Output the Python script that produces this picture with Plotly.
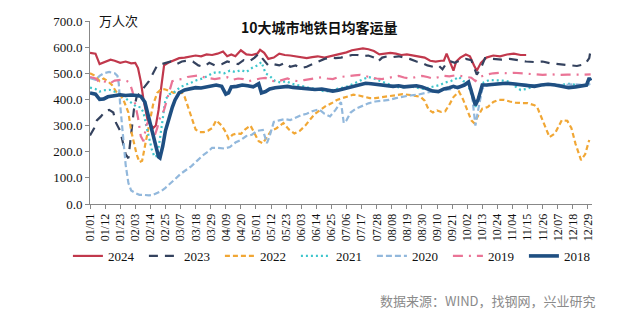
import plotly.graph_objects as go

# ---- tick labels (every 11 days) ----
tick_days = list(range(1, 365, 11))
tick_labels = ["01/01", "01/12", "01/23", "02/03", "02/14", "02/25", "03/07", "03/18", "03/29",
               "04/09", "04/20", "05/01", "05/12", "05/23", "06/03", "06/14", "06/25", "07/06",
               "07/17", "07/28", "08/08", "08/19", "08/30", "09/10", "09/21", "10/02", "10/13",
               "10/24", "11/04", "11/15", "11/26", "12/07", "12/18", "12/29"]

# ---- series: day of year, value (万人次) ----
d2024 = [1, 5, 8, 12, 16, 19, 23, 27, 31, 34, 36, 38, 40, 43, 47, 49, 51, 53, 55, 58, 62, 66, 70, 74, 78, 82,
         86, 90, 94, 98, 101, 104, 107, 111, 115, 119, 123, 125, 128, 131, 135, 139, 143, 147, 151, 155, 159,
         163, 167, 172, 176, 180, 184, 188, 192, 196, 200, 204, 208, 212, 216, 220, 224, 228, 232, 236, 240,
         245, 249, 253, 257, 259, 261, 263, 266, 268, 271, 275, 278, 281, 283, 286, 290, 295, 300, 305, 310,
         315, 319]
v2024 = [578, 575, 535, 545, 552, 548, 540, 545, 538, 540, 520, 470, 400, 320, 290, 300, 360, 450, 530, 540,
         550, 558, 560, 565, 568, 565, 572, 570, 575, 583, 565, 572, 565, 588, 572, 570, 575, 590, 578, 555,
         560, 575, 570, 568, 565, 560, 558, 562, 565, 560, 565, 570, 575, 580, 588, 592, 595, 592, 585, 572,
         575, 578, 575, 570, 572, 568, 565, 560, 548, 545, 548, 548, 575, 548, 510, 545, 560, 572, 565, 530,
         510, 540, 560, 568, 565, 572, 575, 570, 570]

d2023 = [1, 4, 6, 9, 12, 15, 18, 20, 23, 25, 27, 29, 31, 33, 35, 38, 41, 44, 47, 50, 53, 56, 60, 64, 68, 72,
         76, 80, 84, 88, 92, 97, 101, 105, 109, 113, 117, 121, 124, 127, 131, 135, 139, 143, 147, 151, 155,
         159, 163, 168, 172, 176, 180, 184, 188, 192, 196, 200, 204, 208, 211, 214, 218, 222, 226, 230, 234,
         239, 243, 247, 251, 255, 258, 261, 264, 267, 271, 275, 279, 283, 286, 289, 295, 301, 307, 313, 319,
         325, 331, 337, 343, 350, 356, 362, 365, 366]
v2023 = [262, 290, 320, 335, 355, 360, 350, 310, 280, 230, 190, 175, 260, 360, 410, 430, 450, 470, 500, 530,
         535, 540, 545, 535, 545, 548, 545, 530, 525, 540, 530, 535, 545, 540, 535, 550, 545, 560, 575, 555,
         530, 535, 530, 540, 525, 530, 520, 525, 535, 548, 555, 560, 558, 560, 565, 570, 570, 565, 568, 560,
         545, 560, 565, 562, 565, 560, 555, 545, 540, 530, 525, 530, 515, 540, 545, 540, 550, 555, 550, 495,
         520, 558, 555, 552, 555, 550, 545, 543, 545, 538, 535, 530, 528, 535, 558, 590]

d2022 = [1, 5, 8, 11, 14, 17, 20, 24, 26, 29, 31, 33, 35, 37, 39, 41, 44, 47, 50, 53, 56, 59, 62, 65, 68, 70,
         72, 75, 78, 81, 84, 87, 90, 93, 97, 100, 102, 105, 108, 111, 114, 118, 121, 124, 127, 130, 133, 137,
         142, 146, 150, 154, 158, 161, 165, 169, 173, 177, 181, 185, 189, 193, 197, 201, 205, 209, 213, 217,
         221, 225, 229, 233, 238, 242, 245, 248, 251, 254, 257, 260, 263, 266, 270, 273, 276, 279, 281, 283,
         287, 291, 295, 299, 303, 307, 311, 316, 320, 325, 327, 331, 336, 340, 345, 349, 352, 355, 359, 362,
         365]
v2022 = [500, 490, 470, 480, 470, 455, 430, 410, 390, 350, 280, 230, 190, 160, 165, 220, 300, 380, 425, 440,
         438, 432, 425, 430, 425, 410, 380, 330, 285, 275, 275, 280, 290, 320, 300, 275, 250, 265, 270, 268,
         285, 300, 270, 240, 232, 255, 280, 290, 310, 285, 270, 280, 300, 320, 345, 360, 375, 385, 398, 405,
         412, 418, 415, 410, 405, 405, 408, 410, 415, 418, 420, 418, 415, 410, 395, 360, 350, 358, 352, 355,
         380, 409, 430, 400, 360, 320, 310, 330, 365, 371, 390, 398, 398, 392, 388, 386, 386, 378, 371, 320,
         256, 270, 321, 318, 290, 230, 168, 190, 245]

d2021 = [1, 5, 8, 11, 15, 19, 24, 28, 32, 35, 38, 40, 42, 44, 46, 48, 50, 52, 54, 56, 59, 63, 67, 71, 75, 79,
         83, 87, 90, 94, 99, 103, 107, 111, 115, 119, 123, 126, 129, 132, 136, 140, 144, 148, 152, 156, 160,
         164, 169, 173, 177, 181, 185, 189, 193, 197, 201, 204, 208, 211, 215, 219, 223, 227, 231, 235, 239,
         244, 248, 252, 256, 260, 264, 268, 270, 273, 276, 279, 282, 285, 288, 292, 297, 302, 307, 311, 315,
         319, 325, 331, 337, 343, 350, 356, 362, 366]
v2021 = [445, 440, 430, 435, 437, 430, 420, 400, 385, 372, 370, 350, 300, 250, 210, 180, 185, 250, 330, 400,
         420, 430, 448, 455, 465, 474, 480, 490, 500, 505, 500, 510, 505, 512, 505, 520, 530, 543, 500, 490,
         470, 465, 470, 460, 455, 450, 445, 440, 435, 430, 435, 440, 445, 450, 460, 470, 478, 486, 480, 474,
         465, 455, 450, 445, 448, 450, 445, 440, 445, 450, 455, 465, 470, 480, 486, 470, 465, 420, 371, 420,
         465, 474, 474, 472, 468, 450, 436, 440, 450, 455, 458, 455, 460, 455, 455, 460]

d2020 = [1, 5, 8, 11, 15, 19, 21, 22, 23, 25, 27, 29, 31, 34, 37, 40, 44, 47, 50, 53, 56, 59, 63, 67, 71, 75,
         79, 83, 87, 90, 94, 99, 103, 107, 111, 115, 119, 123, 127, 130, 132, 135, 139, 143, 147, 151, 155,
         159, 163, 168, 172, 176, 180, 184, 186, 188, 191, 195, 199, 204, 209, 214, 219, 224, 229, 234, 240,
         245, 250, 255, 260, 265, 270, 275, 279, 282, 284, 287, 291, 297, 305, 313, 321, 329, 337, 345, 354,
         362, 366]
v2020 = [482, 475, 490, 500, 505, 500, 490, 460, 380, 260, 150, 80, 52, 42, 35, 35, 33, 35, 42, 50, 62, 75,
         95, 115, 130, 145, 165, 185, 200, 215, 215, 212, 218, 235, 245, 260, 265, 280, 283, 233, 260, 314,
         320, 325, 321, 330, 340, 345, 355, 362, 345, 335, 360, 390, 310, 320, 350, 365, 375, 385, 392, 396,
         398, 405, 410, 415, 418, 425, 430, 432, 436, 440, 450, 460, 440, 300, 360, 440, 455, 460, 462, 458,
         455, 455, 458, 455, 458, 455, 460]

d2019 = [1, 5, 8, 11, 15, 19, 24, 28, 30, 32, 34, 36, 38, 40, 42, 44, 46, 48, 50, 52, 55, 58, 61, 64, 68, 72,
         76, 80, 84, 88, 92, 97, 101, 105, 109, 113, 117, 121, 125, 129, 133, 137, 141, 145, 149, 153, 157,
         161, 165, 170, 174, 178, 182, 186, 190, 194, 198, 202, 206, 210, 214, 218, 222, 226, 230, 234, 239,
         243, 247, 251, 255, 259, 263, 267, 271, 275, 279, 282, 285, 290, 295, 300, 305, 310, 315, 320, 325,
         331, 337, 343, 349, 355, 361, 366]
v2019 = [486, 480, 465, 470, 460, 472, 475, 470, 463, 430, 380, 330, 260, 240, 300, 320, 280, 260, 290, 330,
         360, 420, 470, 475, 478, 486, 490, 492, 485, 480, 478, 482, 485, 475, 480, 478, 470, 475, 480, 482,
         472, 468, 475, 480, 472, 470, 474, 478, 482, 485, 480, 478, 485, 488, 490, 492, 494, 488, 484, 480,
         478, 482, 486, 490, 484, 480, 486, 490, 486, 480, 485, 490, 488, 492, 490, 486, 483, 470, 485, 495,
         500, 502, 500, 502, 500, 498, 496, 494, 496, 494, 495, 494, 495, 496]

d2018 = [1, 5, 8, 11, 14, 18, 23, 27, 31, 35, 38, 41, 43, 46, 49, 51, 52, 54, 56, 58, 61, 63, 66, 70, 74, 78,
         82, 86, 90, 93, 97, 100, 102, 104, 108, 112, 116, 120, 124, 126, 129, 132, 136, 140, 145, 149, 153,
         157, 161, 165, 170, 174, 178, 182, 186, 190, 194, 198, 202, 206, 210, 214, 218, 222, 226, 230, 234,
         239, 243, 247, 251, 255, 259, 263, 266, 269, 272, 274, 277, 280, 282, 284, 287, 290, 294, 299, 304,
         309, 315, 320, 325, 330, 335, 340, 345, 350, 355, 359, 363, 365, 366]
v2018 = [425, 420, 400, 402, 410, 415, 418, 415, 417, 415, 412, 390, 350, 283, 220, 180, 176, 220, 280, 321,
         370, 398, 425, 436, 440, 445, 444, 448, 452, 455, 450, 420, 425, 448, 450, 455, 452, 448, 460, 425,
         430, 440, 445, 448, 450, 446, 444, 442, 440, 438, 440, 436, 432, 435, 440, 446, 452, 458, 462, 460,
         458, 455, 452, 450, 452, 448, 450, 452, 448, 440, 432, 430, 440, 445, 450, 445, 450, 455, 467, 420,
         378, 400, 455, 455, 458, 460, 462, 460, 455, 452, 450, 455, 458, 455, 450, 445, 448, 450, 455, 482,
         472]

series = [
    ("2024", d2024, v2024, "#c1384c", 2.2, "solid"),
    ("2023", d2023, v2023, "#34425e", 2.2, "9px,7px"),
    ("2022", d2022, v2022, "#f1a735", 2.2, "5px,3px"),
    ("2021", d2021, v2021, "#3ec6cc", 2.2, "2px,3px"),
    ("2020", d2020, v2020, "#92b8dc", 2.2, "6px,3px"),
    ("2019", d2019, v2019, "#ea7496", 2.2, "10px,6px,2px,6px"),
    ("2018", d2018, v2018, "#1f4f82", 3.6, "solid"),
]

fig = go.Figure()
for name, xs, ys, color, w, dash in series:
    fig.add_trace(go.Scatter(x=xs, y=ys, name=name, mode="lines",
                             line=dict(color=color, width=w, dash=dash)))

serif = "Liberation Serif, Times New Roman, serif"
cjk = "Noto Sans CJK SC"

fig.update_layout(
    width=640, height=331,
    margin=dict(l=90, r=48, t=21, b=127),
    paper_bgcolor="white", plot_bgcolor="white",
    showlegend=True,
    legend=dict(orientation="h", x=-0.044, xanchor="left", y=-0.284, yanchor="middle",
                bgcolor="rgba(0,0,0,0)",
                font=dict(family=serif, size=13, color="#111"),
                entrywidth=31, itemwidth=30, tracegroupgap=0),
    xaxis=dict(range=[1, 367], tickmode="array", tickvals=tick_days, ticktext=tick_labels,
               tickangle=-90, ticks="outside", ticklen=4, tickcolor="#888",
               showline=True, linecolor="#888", linewidth=1, showgrid=False, zeroline=False,
               tickfont=dict(family=serif, size=12, color="#111")),
    yaxis=dict(range=[0, 700], dtick=100, tickformat=".1f", ticks="outside", ticklen=4,
               tickcolor="#888", showline=True, linecolor="#888", linewidth=1,
               showgrid=False, zeroline=False,
               tickfont=dict(family=serif, size=13, color="#111")),
    annotations=[
        dict(text="<b>10大城市地铁日均客运量</b>", x=0.458, y=0.967, xref="paper", yref="paper",
             xanchor="center", yanchor="middle", showarrow=False,
             font=dict(family=cjk, size=14, color="#111")),
        dict(text="万人次", x=0.014, y=1.005, xref="paper", yref="paper",
             xanchor="left", yanchor="middle", showarrow=False,
             font=dict(family=cjk, size=13, color="#111")),
        dict(text="数据来源：WIND，找钢网，兴业研究", x=1.012, y=-0.525, xref="paper", yref="paper",
             xanchor="right", yanchor="middle", showarrow=False,
             font=dict(family=cjk, size=13, color="#8a8a8a")),
    ],
)

fig.write_html("out.html")
